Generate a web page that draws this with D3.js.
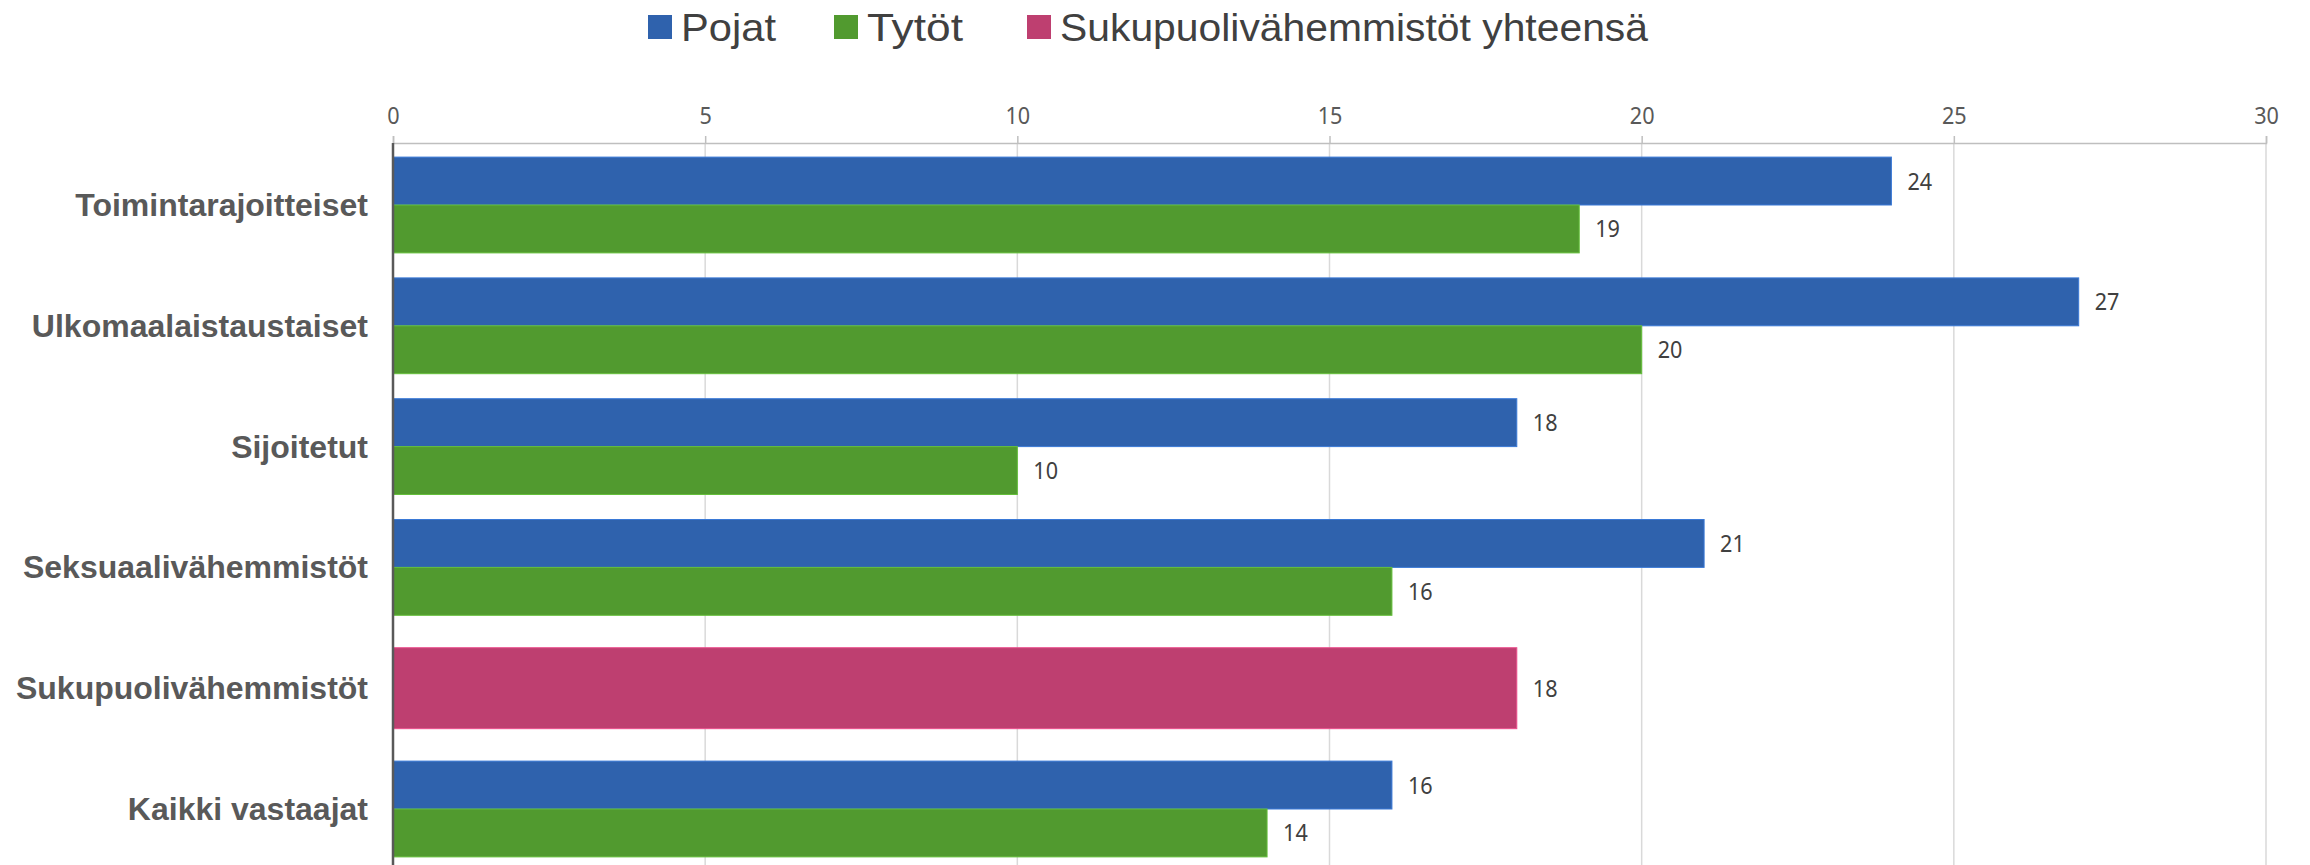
<!DOCTYPE html>
<html><head><meta charset="utf-8">
<script src="https://cdn.jsdelivr.net/npm/d3@7"></script>
<style>body{margin:0;background:#fff}svg{display:block}</style>
</head><body>
<svg id="c" width="2310" height="865"></svg>
<script>
const categories = ["Toimintarajoitteiset","Ulkomaalaistaustaiset","Sijoitetut","Seksuaalivähemmistöt","Sukupuolivähemmistöt","Kaikki vastaajat"];
const pojat = [24, 27, 18, 21, null, 16];
const tytot = [19, 20, 10, 16, null, 14];
const sukupuoliYht = [null, null, null, null, 18, null];
const xTicks = [0, 5, 10, 15, 20, 25, 30];
const seriesNames = ["Pojat", "Tytöt", "Sukupuolivähemmistöt yhteensä"];
const colors = ["#2F62AD", "#519A2F", "#BE3F70"];

const svg = d3.select("#c");
const x = d3.scaleLinear().domain([0, 30]).range([393, 2266]);
const y = d3.scaleBand().domain(categories).range([144.6, 869.4]).paddingInner(0.207).paddingOuter(0.1035);
const bw = y.bandwidth();
const axisY = 143;

// gridlines
svg.append("g").selectAll("line").data(xTicks.slice(1)).join("line")
  .attr("x1", d => x(d)).attr("x2", d => x(d))
  .attr("y1", axisY).attr("y2", 865)
  .attr("stroke", "#d9d9d9").attr("stroke-width", 1.5);

// top axis
const ax = svg.append("g").attr("transform", `translate(0,${axisY})`)
  .call(d3.axisTop(x).tickValues(xTicks).tickSize(7).tickPadding(12));
ax.select(".domain").attr("stroke", "#bfbfbf").attr("stroke-width", 1.5);
ax.selectAll(".tick line").attr("stroke", "#bfbfbf").attr("stroke-width", 1.5);
ax.selectAll(".tick text").attr("fill", "#595959")
  .style("font-family", "'Noto Sans', sans-serif").style("font-size", "24px");

function condense(sel, f) {
  sel.each(function() {
    const w = this.getComputedTextLength();
    d3.select(this).attr("textLength", w * f).attr("lengthAdjust", "spacingAndGlyphs");
  });
}
condense(ax.selectAll(".tick text"), 0.9);

// bars
const rows = categories.map((c, i) => ({c, p: pojat[i], t: tytot[i], s: sukupuoliYht[i]}));
const barsG = svg.append("g");
const labelsG = svg.append("g");
function addBar(c, v, y0, h, col) {
  if (v == null) return;
  barsG.append("rect").attr("x", x(0)).attr("y", y0).attr("width", x(v) - x(0)).attr("height", h)
    .attr("fill", col).attr("stroke", d3.color(col).brighter(0.6)).attr("stroke-width", 1);
  const t = labelsG.append("text").attr("x", x(v) + 16).attr("y", y0 + h / 2 + 8.5)
    .attr("fill", "#404040").style("font-family", "'Noto Sans', sans-serif").style("font-size", "24px").text(v);
  condense(t, 0.9);
}
rows.forEach(r => {
  const y0 = y(r.c);
  addBar(r.c, r.p, y0, bw / 2, colors[0]);
  addBar(r.c, r.t, y0 + bw / 2, bw / 2, colors[1]);
  const sh = bw * 0.845;
  addBar(r.c, r.s, y0 + (bw - sh) / 2, sh, colors[2]);
});

// left axis line
svg.append("line").attr("x1", x(0)).attr("x2", x(0)).attr("y1", axisY).attr("y2", 865)
  .attr("stroke", "#595959").attr("stroke-width", 2.5);

// category labels
svg.append("g").selectAll("text").data(categories).join("text")
  .attr("x", 368).attr("y", d => y(d) + bw / 2 + 11)
  .attr("text-anchor", "end").attr("fill", "#595959")
  .style("font-family", "'Liberation Sans', Arial, sans-serif").style("font-weight", "bold").style("font-size", "32px")
  .text(d => d);

// legend
const legX = [648, 834, 1027];
const legW = [95, 96, 588];
const lg = svg.append("g");
seriesNames.forEach((n, i) => {
  lg.append("rect").attr("x", legX[i]).attr("y", 15).attr("width", 24).attr("height", 24).attr("fill", colors[i]);
  lg.append("text").attr("x", legX[i] + 33).attr("y", 41).attr("fill", "#404040")
    .style("font-family", "'Liberation Sans', Arial, sans-serif").style("font-size", "39px")
    .attr("textLength", legW[i]).attr("lengthAdjust", "spacingAndGlyphs").text(n);
});
</script>
</body></html>
